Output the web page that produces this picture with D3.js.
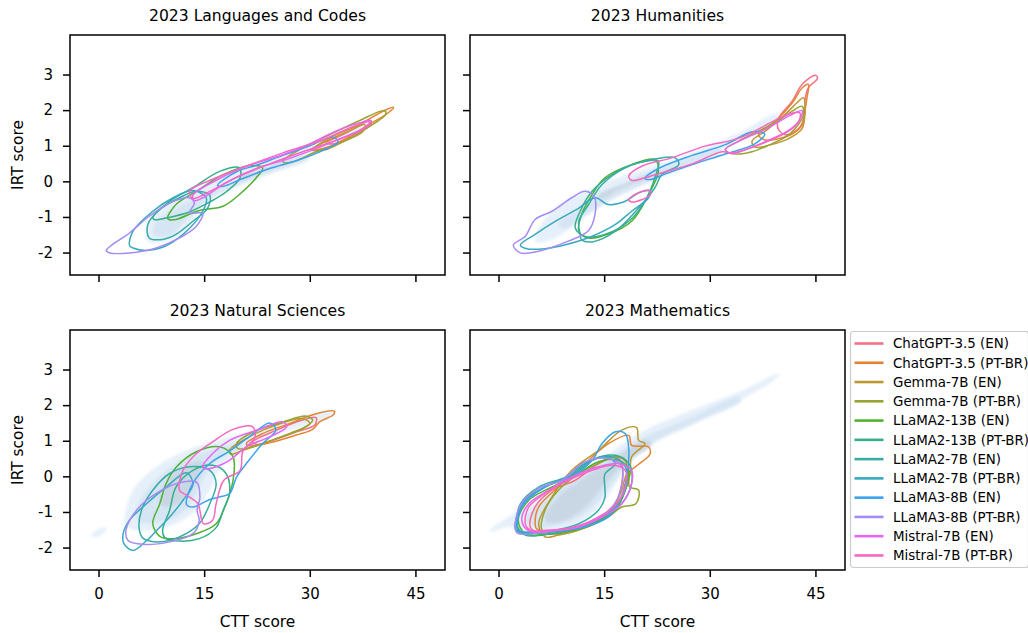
<!DOCTYPE html>
<html>
<head>
<meta charset="utf-8">
<script src="https://cdn.jsdelivr.net/npm/d3@7"></script>
<style>
  body { margin: 0; background: #fff; }
  text { font-family: "DejaVu Sans", sans-serif; fill: #000; }
</style>
</head>
<body>
<svg id="chart" width="1028" height="633"></svg>
<script>
// ---- data -------------------------------------------------------------
const models = [
  "ChatGPT-3.5 (EN)", "ChatGPT-3.5 (PT-BR)", "Gemma-7B (EN)", "Gemma-7B (PT-BR)",
  "LLaMA2-13B (EN)", "LLaMA2-13B (PT-BR)", "LLaMA2-7B (EN)", "LLaMA2-7B (PT-BR)",
  "LLaMA3-8B (EN)", "LLaMA3-8B (PT-BR)", "Mistral-7B (EN)", "Mistral-7B (PT-BR)"
];
const panelTitles = ["2023 Languages and Codes", "2023 Humanities", "2023 Natural Sciences", "2023 Mathematics"];
const xTicks = [0, 15, 30, 45];
const yTicks = [-2, -1, 0, 1, 2, 3];
const xDomain = [-4.05, 49.2];
const yDomain = [-2.63, 4.11];

// KDE level outlines (CTT score, IRT score) of all models pooled, outer level first
const langDensity = [
  [[[7.0,-1.69],[6.8,-1.22],[9.1,-0.65],[12.9,-0.28],[18.1,0.19],[22.4,0.47],[28.1,0.85],[33.7,1.32],[37.1,1.60],[37.5,1.46],[33.7,1.03],[28.5,0.66],[23.3,0.28],[18.1,-0.09],[14.8,-0.56],[13.4,-1.12],[11.0,-1.59],[8.2,-1.73]]],
  [[[7.7,-1.49],[8.2,-1.12],[11.0,-0.75],[15.8,-0.28],[22.4,0.28],[29.0,0.75],[30.0,0.64],[23.3,0.14],[16.7,-0.42],[12.9,-0.98],[10.1,-1.54]]],
  [[[20.0,0.15],[24.0,0.40],[27.5,0.62],[27.0,0.52],[23.5,0.30],[20.5,0.05]]]
];
const humDensity = [
  [[[5.2,-1.68],[5.7,-1.31],[8.1,-0.75],[12.3,-0.28],[17.0,0.10],[22.7,0.47],[28.4,0.89],[34.6,1.41],[39.3,1.89],[39.9,1.76],[36.0,1.30],[30.3,0.75],[24.6,0.36],[18.9,-0.11],[14.2,-0.67],[10.9,-1.21],[8.1,-1.59],[5.7,-1.73]]],
  [[[8.5,-1.21],[11.4,-0.75],[15.6,-0.28],[20.8,0.19],[26.5,0.61],[31.2,0.94],[31.7,0.80],[27.0,0.43],[21.8,0.0],[16.6,-0.46],[12.3,-0.98],[9.5,-1.33]]],
  [[[14.0,-0.40],[18.0,-0.05],[22.0,0.25],[21.5,0.12],[17.5,-0.18],[14.5,-0.50]]]
];
const natDensity = [
  [[[3.7,-1.14],[4.9,-0.39],[8.2,0.27],[12.5,0.73],[16.7,1.01],[20.5,1.20],[25.2,1.48],[30.0,1.76],[33.3,1.86],[32.8,1.65],[29.0,1.39],[24.3,1.11],[20.5,0.73],[17.2,0.17],[15.8,-0.39],[13.9,-0.95],[11.0,-1.33],[7.7,-1.51],[4.9,-1.51],[3.7,-1.34]],
   [[-1.0,-1.65],[0.6,-1.42],[1.2,-1.47],[-0.3,-1.72]]],
  [[[5.4,-0.95],[7.2,-0.30],[11.0,0.36],[15.8,0.73],[19.6,0.92],[20.5,0.81],[16.7,0.43],[14.8,-0.11],[13.4,-0.67],[11.0,-1.14],[7.2,-1.33],[5.6,-1.25]]],
  [[[8.7,-0.58],[10.1,-0.02],[12.9,0.36],[14.8,0.41],[14.3,-0.02],[12.5,-0.58],[10.1,-0.86],[8.9,-0.81]]]
];
const mathDensity = [
  [[[-1.2,-1.51],[1.4,-1.14],[6.2,-0.58],[10.9,-0.02],[15.6,0.64],[20.8,1.30],[27.5,1.86],[34.6,2.41],[39.9,2.90],[39.3,2.73],[34.6,2.18],[28.4,1.65],[22.7,1.11],[18.9,0.50],[17.0,-0.11],[14.7,-0.77],[12.3,-1.23],[8.5,-1.51],[3.8,-1.56],[1.4,-1.42],[-1.0,-1.55]]],
  [[[3.8,-1.23],[6.2,-0.67],[10.4,-0.11],[15.1,0.45],[20.8,1.11],[27.5,1.67],[34.1,2.23],[34.5,2.12],[28.4,1.53],[21.8,0.90],[18.0,0.27],[15.1,-0.48],[12.3,-1.04],[8.5,-1.37],[5.2,-1.43]]],
  [[[6.6,-1.14],[8.5,-0.58],[12.3,-0.02],[16.1,0.45],[20.8,1.02],[21.8,0.90],[18.0,0.36],[15.1,-0.22],[12.3,-0.86],[9.5,-1.23],[7.1,-1.31]]]
];

// one KDE contour per model (same order as `models`), each a list of rings
const langContours = [
  [[[32.3,1.08],[35.2,1.36],[38.5,1.71],[38.7,1.60],[36.1,1.30],[33.3,1.05]]],
  [[[30.4,0.89],[33.3,1.27],[36.6,1.55],[40.4,1.97],[41.9,2.08],[41.1,1.92],[38.0,1.55],[35.2,1.20],[31.9,0.92]]],
  [[[30.2,0.89],[32.8,1.17],[36.1,1.46],[37.8,1.60],[37.5,1.39],[34.7,1.11],[31.9,0.87]]],
  [[[26.2,0.58],[29.0,0.94],[32.8,1.31],[37.1,1.71],[40.6,1.99],[40.8,1.89],[38.0,1.48],[34.7,1.11],[30.9,0.83],[27.6,0.55],[26.4,0.52]]],
  [[[9.8,-1.03],[11.0,-0.65],[13.9,-0.28],[17.7,0.19],[21.4,0.44],[23.3,0.38],[22.4,0.10],[20.0,-0.37],[17.7,-0.70],[14.3,-0.82],[11.0,-1.07],[10.0,-1.07]]],
  [[[7.7,-1.03],[10.1,-0.56],[13.4,-0.18],[17.2,0.28],[20.0,0.38],[20.1,0.10],[18.1,-0.30],[15.8,-0.58],[12.9,-0.86],[9.6,-1.03],[8.0,-1.08]]],
  [[[7.2,-1.59],[7.0,-1.21],[8.7,-0.79],[11.5,-0.46],[13.9,-0.28],[15.8,-0.39],[15.5,-0.75],[13.4,-1.12],[11.0,-1.49],[9.1,-1.63]]],
  [[[4.4,-1.80],[4.9,-1.40],[7.7,-0.84],[10.6,-0.46],[13.4,-0.26],[15.3,-0.46],[14.8,-0.84],[12.0,-1.49],[9.1,-1.85],[6.8,-1.94],[4.9,-1.87]]],
  [[[16.9,-0.11],[19.6,0.27],[22.4,0.45],[26.2,0.73],[30.0,1.0],[33.3,1.24],[34.0,1.11],[31.9,0.87],[28.1,0.58],[24.3,0.36],[20.5,0.08],[17.7,-0.14]]],
  [[[1.1,-1.94],[4.4,-1.45],[7.2,-0.98],[10.1,-0.61],[12.9,-0.46],[13.6,-0.61],[12.9,-0.89],[14.8,-0.89],[13.9,-1.26],[11.5,-1.59],[8.2,-1.87],[4.4,-2.01],[1.6,-2.01]]],
  [[[13.4,-0.39],[17.2,0.08],[21.4,0.45],[26.2,0.75],[30.0,1.05],[33.7,1.41],[37.5,1.67],[38.7,1.71],[38.2,1.55],[35.2,1.27],[30.9,0.92],[26.6,0.61],[22.4,0.36],[18.1,-0.04],[14.8,-0.46],[13.6,-0.54]]],
  [[[12.9,-0.28],[16.7,0.10],[21.0,0.43],[26.2,0.80],[31.9,1.17],[36.6,1.58],[38.5,1.67],[37.5,1.46],[33.7,1.15],[29.0,0.83],[24.3,0.49],[19.6,0.11],[15.8,-0.28],[13.4,-0.48]]]
];
const humContours = [
  [[[39.8,1.78],[41.7,2.25],[43.1,2.72],[45.0,2.98],[45.3,2.89],[44.0,2.63],[43.5,2.25],[43.5,1.88],[42.6,1.48],[40.7,1.31],[39.7,1.48]]],
  [[[36.9,1.31],[39.3,1.69],[41.7,2.20],[43.1,2.62],[44.0,2.72],[43.8,2.35],[43.5,1.97],[43.1,1.58],[41.7,1.33],[39.8,1.20],[37.9,1.16]]],
  [[[36.0,1.13],[37.9,1.41],[40.7,1.88],[42.6,2.25],[43.3,2.35],[43.5,1.97],[43.1,1.48],[41.2,1.20],[38.3,1.01],[36.4,0.96]]],
  [[[32.2,0.89],[34.1,1.13],[36.9,1.41],[39.8,1.71],[41.7,1.97],[43.1,2.11],[43.3,1.86],[42.1,1.48],[40.7,1.24],[38.3,1.01],[36.0,0.83],[34.3,0.77],[32.7,0.80]]],
  [[[11.4,-1.40],[11.8,-0.93],[13.3,-0.37],[15.1,0.10],[18.9,0.47],[22.2,0.61],[22.7,0.28],[21.3,-0.37],[18.9,-1.12],[15.6,-1.48],[12.8,-1.59]]],
  [[[10.9,-1.31],[11.6,-0.84],[13.3,-0.28],[16.1,0.19],[19.9,0.52],[22.7,0.57],[22.2,0.10],[20.8,-0.56],[18.5,-1.12],[15.1,-1.49],[12.3,-1.55]]],
  [[[11.6,-1.49],[11.4,-1.12],[12.8,-0.65],[14.7,-0.09],[18.0,0.38],[21.8,0.61],[25.1,0.66],[25.6,0.47],[23.2,0.19],[22.2,-0.18],[19.9,-0.75],[16.6,-1.40],[13.3,-1.70],[11.8,-1.64]]],
  [[[3.1,-1.79],[5.2,-1.49],[8.1,-1.12],[11.4,-0.75],[13.7,-0.46],[15.6,-0.65],[18.0,-0.56],[19.9,-0.32],[21.5,-0.28],[21.3,-0.46],[18.9,-0.84],[16.6,-1.21],[13.3,-1.54],[9.5,-1.78],[6.6,-1.89],[4.0,-1.89]]],
  [[[20.8,0.08],[22.7,0.36],[27.5,0.73],[32.2,1.03],[36.0,1.39],[37.8,1.33],[36.4,1.05],[32.2,0.77],[27.5,0.47],[23.7,0.21],[21.5,0.05]]],
  [[[2.1,-1.79],[3.1,-2.01],[5.7,-1.96],[9.9,-1.68],[12.8,-1.38],[13.7,-0.93],[13.6,-0.45],[12.3,-0.28],[10.4,-0.46],[7.6,-0.84],[5.2,-1.07],[3.8,-1.54]]],
  [[[32.2,0.89],[34.6,1.17],[37.9,1.46],[41.2,1.83],[43.1,1.99],[42.8,1.74],[41.2,1.43],[38.3,1.15],[35.5,0.92],[33.1,0.78]]],
  [[[18.5,0.15],[20.4,0.43],[24.6,0.66],[29.3,0.99],[33.1,1.15],[35.5,1.32],[38.8,1.67],[41.7,1.92],[42.8,1.92],[42.6,1.67],[41.2,1.41],[38.3,1.13],[35.0,0.89],[33.1,0.80],[31.7,0.83],[27.5,0.49],[23.7,0.27],[20.8,0.10],[18.9,0.03]],
   [[18.5,-0.51],[19.9,-0.32],[21.5,-0.26],[21.5,-0.39],[20.4,-0.51],[18.9,-0.58]]]
];
const natContours = [
  [[[21.9,0.97],[25.2,1.29],[29.0,1.58],[30.9,1.65],[30.7,1.44],[28.1,1.25],[24.8,1.01],[22.4,0.90]]],
  [[[21.0,0.92],[23.3,1.20],[27.1,1.48],[30.9,1.76],[33.5,1.83],[33.3,1.72],[31.4,1.53],[30.4,1.32],[28.1,1.16],[24.3,0.94],[21.4,0.86]]],
  [[[18.6,0.73],[21.4,1.11],[25.2,1.44],[29.0,1.62],[30.0,1.48],[27.1,1.20],[23.3,0.92],[20.5,0.73],[18.8,0.62]]],
  [[[19.6,0.92],[22.4,1.29],[26.2,1.53],[29.5,1.69],[30.4,1.58],[29.0,1.34],[25.2,1.06],[21.9,0.83],[19.8,0.78]]],
  [[[7.7,-1.33],[8.7,-0.77],[9.6,-0.20],[11.0,0.25],[13.9,0.69],[17.2,0.83],[19.1,0.55],[19.1,-0.11],[18.1,-0.77],[16.7,-1.33],[13.9,-1.61],[10.6,-1.75],[8.8,-1.70]]],
  [[[9.1,-1.51],[10.1,-0.95],[11.0,-0.30],[13.4,0.17],[16.2,0.31],[18.1,0.08],[18.6,-0.49],[17.7,-0.95],[16.7,-1.44],[14.3,-1.75],[11.0,-1.81],[9.4,-1.72]]],
  [[[5.8,-1.51],[6.1,-0.95],[7.7,-0.39],[10.1,0.08],[12.9,0.27],[15.8,0.17],[16.7,-0.20],[15.8,-0.77],[14.3,-1.33],[11.5,-1.70],[8.7,-1.84],[6.4,-1.75]]],
  [[[3.5,-1.61],[4.4,-1.23],[6.8,-0.77],[9.6,-0.30],[12.5,0.10],[13.4,-0.22],[12.0,-0.67],[10.1,-1.14],[8.2,-1.53],[6.8,-1.81],[4.9,-2.08],[3.6,-1.89]]],
  [[[12.5,-0.79],[13.4,-0.20],[15.8,0.36],[18.6,0.71],[21.4,1.11],[24.3,1.50],[25.2,1.30],[23.3,0.92],[21.0,0.36],[19.6,-0.02],[18.6,-0.49],[17.2,-0.58],[15.8,-0.65],[13.4,-0.86]]],
  [[[3.9,-1.51],[5.4,-0.95],[8.2,-0.48],[11.5,-0.18],[13.9,-0.16],[14.4,-0.58],[14.0,-0.95],[14.3,-1.25],[13.4,-1.61],[10.1,-1.84],[6.3,-1.91],[4.2,-1.80]]],
  [[[14.8,0.27],[16.2,0.64],[18.6,1.01],[22.4,1.29],[26.2,1.53],[26.7,1.39],[24.3,1.11],[21.0,0.83],[18.6,0.45],[16.7,0.27],[15.3,0.21]]],
  [[[11.5,-0.39],[12.0,0.17],[13.9,0.64],[16.2,0.97],[19.1,1.32],[21.9,1.39],[22.2,1.09],[20.5,0.71],[20.1,0.17],[17.8,-0.11],[16.7,-0.77],[16.2,-1.23],[14.9,-1.33],[14.1,-0.77],[12.5,-0.53]]]
];
const mathContours = [
  [[[4.5,-1.42],[5.2,-0.86],[7.6,-0.39],[10.9,-0.11],[14.2,0.36],[16.6,0.55],[17.5,0.36],[17.5,-0.20],[16.6,-0.77],[14.7,-1.19],[11.8,-1.47],[8.5,-1.61],[5.7,-1.59]]],
  [[[5.2,-1.33],[5.7,-0.86],[8.5,-0.30],[12.3,0.36],[15.6,0.92],[18.5,1.15],[18.9,0.87],[21.3,0.83],[21.5,0.62],[19.9,0.34],[18.2,0.06],[17.5,-0.39],[16.1,-0.95],[13.7,-1.33],[9.9,-1.56],[7.1,-1.54],[5.4,-1.47]]],
  [[[6.6,-1.70],[5.7,-1.33],[7.6,-0.58],[10.4,0.17],[14.2,0.73],[17.5,1.30],[19.6,1.37],[19.9,1.01],[20.8,0.92],[18.9,0.55],[18.7,0.08],[18.0,-0.39],[16.6,-0.86],[14.2,-1.23],[11.4,-1.51],[8.5,-1.65]]],
  [[[6.2,-1.51],[6.6,-0.95],[8.5,-0.39],[11.4,0.08],[14.2,0.36],[16.6,0.55],[18.0,0.43],[18.5,-0.02],[18.6,-0.30],[19.9,-0.39],[19.5,-0.77],[17.5,-0.86],[15.6,-1.14],[12.3,-1.44],[8.5,-1.61]]],
  [[[2.8,-1.23],[4.3,-0.67],[7.6,-0.30],[11.4,0.08],[14.2,0.41],[17.0,0.45],[18.5,0.17],[18.0,-0.39],[16.6,-0.95],[14.2,-1.28],[10.9,-1.51],[6.6,-1.63],[3.8,-1.61]]],
  [[[2.6,-1.33],[3.8,-0.67],[7.1,-0.25],[10.9,0.08],[13.7,0.50],[16.6,0.59],[18.5,0.36],[18.9,-0.20],[17.5,-0.77],[15.1,-1.14],[11.8,-1.42],[7.6,-1.61],[3.8,-1.65]]],
  [[[2.6,-1.42],[3.1,-0.77],[5.7,-0.30],[9.5,-0.02],[12.3,0.36],[15.1,0.55],[16.6,0.36],[15.1,0.06],[15.1,-0.30],[15.1,-0.60],[14.2,-0.95],[11.4,-1.33],[8.1,-1.51],[4.3,-1.61],[2.8,-1.56]]],
  [[[2.4,-1.28],[3.8,-0.67],[6.6,-0.30],[9.9,-0.02],[13.3,0.45],[16.1,0.55],[18.0,0.27],[18.2,-0.20],[17.0,-0.77],[14.7,-1.14],[11.4,-1.42],[7.6,-1.56],[3.8,-1.57],[2.5,-1.51]]],
  [[[2.8,-1.51],[3.3,-0.86],[6.6,-0.30],[10.4,-0.02],[13.3,0.45],[14.7,0.92],[16.6,1.25],[18.0,1.20],[18.5,0.73],[18.0,-0.20],[17.0,-0.77],[15.6,-1.14],[12.3,-1.42],[8.5,-1.53],[4.7,-1.57]]],
  [[[2.4,-1.51],[3.1,-0.81],[5.7,-0.34],[9.0,-0.11],[12.3,0.41],[15.6,0.50],[17.5,0.27],[17.0,-0.58],[15.1,-1.05],[12.3,-1.33],[8.5,-1.51],[4.7,-1.61],[2.8,-1.61]]],
  [[[3.3,-1.23],[4.3,-0.77],[7.1,-0.39],[10.4,-0.02],[14.2,0.27],[17.0,0.36],[18.9,0.17],[18.9,-0.20],[17.5,-0.77],[15.1,-1.10],[11.4,-1.42],[7.6,-1.53],[4.3,-1.53]]],
  [[[3.8,-1.33],[4.3,-0.86],[6.6,-0.48],[9.9,-0.11],[13.3,0.17],[16.1,0.31],[18.0,0.17],[18.0,-0.30],[16.6,-0.81],[14.2,-1.14],[10.9,-1.42],[7.1,-1.51],[4.5,-1.51]]]
];

// ---- styles -----------------------------------------------------------
const palette = ["#f77189", "#e68332", "#bb9832", "#97a431", "#50b131", "#34af8a",
                 "#36ada4", "#38aabf", "#3ba3ec", "#a48cf4", "#e866f4", "#f668c2"];
const densityFills = ["#e3eef9", "#d5e4f3", "#c8d5e3"];

// ---- layout -----------------------------------------------------------
const panelW = 375, panelH = 240;
const panelLeft = [70, 470], panelTop = [35, 330];
const panels = [
  { title: panelTitles[0], density: langDensity, contours: langContours, col: 0, row: 0 },
  { title: panelTitles[1], density: humDensity,  contours: humContours,  col: 1, row: 0 },
  { title: panelTitles[2], density: natDensity,  contours: natContours,  col: 0, row: 1 },
  { title: panelTitles[3], density: mathDensity, contours: mathContours, col: 1, row: 1 }
];

const svg = d3.select("#chart");
const x = d3.scaleLinear().domain(xDomain).range([0, panelW]);
const y = d3.scaleLinear().domain(yDomain).range([panelH, 0]);
const ring = d3.line().x(d => x(d[0])).y(d => y(d[1])).curve(d3.curveCatmullRomClosed.alpha(0.5));

const defs = svg.append("defs");
defs.append("filter").attr("id", "soft").attr("x", "-10%").attr("y", "-10%").attr("width", "120%").attr("height", "120%")
  .append("feGaussianBlur").attr("stdDeviation", 1.4);
defs.append("clipPath").attr("id", "plotclip")
  .append("rect").attr("width", panelW).attr("height", panelH);

const fmt = d => (d < 0 ? "-" + Math.abs(d) : String(d));

panels.forEach(p => {
  const g = svg.append("g").attr("transform", `translate(${panelLeft[p.col]},${panelTop[p.row]})`);
  const plot = g.append("g").attr("clip-path", "url(#plotclip)");

  // pooled density, filled levels
  const dens = plot.append("g").attr("filter", "url(#soft)");
  p.density.forEach((level, i) => {
    dens.append("path")
      .attr("d", level.map(r => ring(r)).join(""))
      .attr("fill", densityFills[i])
      .attr("fill-opacity", 0.9);
  });

  // one contour per model
  p.contours.forEach((rings, i) => {
    plot.append("path")
      .attr("d", rings.map(r => ring(r)).join(""))
      .attr("fill", "none")
      .attr("stroke", palette[i])
      .attr("stroke-width", 1.5)
      .attr("stroke-linejoin", "round");
  });

  // axes
  const xa = g.append("g").attr("transform", `translate(0,${panelH})`)
    .call(d3.axisBottom(x).tickValues(xTicks).tickSize(7).tickPadding(11)
      .tickFormat(p.row === 1 ? fmt : () => ""));
  const ya = g.append("g")
    .call(d3.axisLeft(y).tickValues(yTicks).tickSize(7).tickPadding(10)
      .tickFormat(p.col === 0 ? fmt : () => ""));
  [xa, ya].forEach(a => {
    a.select(".domain").remove();
    a.selectAll(".tick line").attr("stroke", "#000").attr("stroke-width", 1.5);
    a.selectAll(".tick text").attr("font-size", 15).attr("font-family", "DejaVu Sans").attr("fill", "#000");
  });

  g.append("rect").attr("width", panelW).attr("height", panelH)
    .attr("fill", "none").attr("stroke", "#000").attr("stroke-width", 1.5);

  g.append("text").attr("x", panelW / 2).attr("y", -14.5)
    .attr("text-anchor", "middle").attr("font-size", 15.6).text(p.title);

  if (p.col === 0) {
    g.append("text").attr("transform", `translate(${23 - panelLeft[0]},${panelH / 2}) rotate(-90)`)
      .attr("text-anchor", "middle").attr("font-size", 15.4).text("IRT score");
  }
  if (p.row === 1) {
    g.append("text").attr("x", panelW / 2).attr("y", panelH + 57)
      .attr("text-anchor", "middle").attr("font-size", 15.4).text("CTT score");
  }
});

// ---- legend -----------------------------------------------------------
const lg = svg.append("g").attr("transform", "translate(850.5,331.5)");
lg.append("rect").attr("width", 178).attr("height", 236).attr("rx", 3)
  .attr("fill", "#fff").attr("fill-opacity", 0.8).attr("stroke", "#cccccc").attr("stroke-width", 1.2);
models.forEach((m, i) => {
  const yy = 12 + i * 19.27;
  lg.append("line").attr("x1", 4).attr("x2", 33).attr("y1", yy).attr("y2", yy)
    .attr("stroke", palette[i]).attr("stroke-width", 2.6);
  lg.append("text").attr("x", 42.5).attr("y", yy).attr("dy", "0.36em")
    .attr("font-size", 13.4).text(m);
});
</script>
</body>
</html>
